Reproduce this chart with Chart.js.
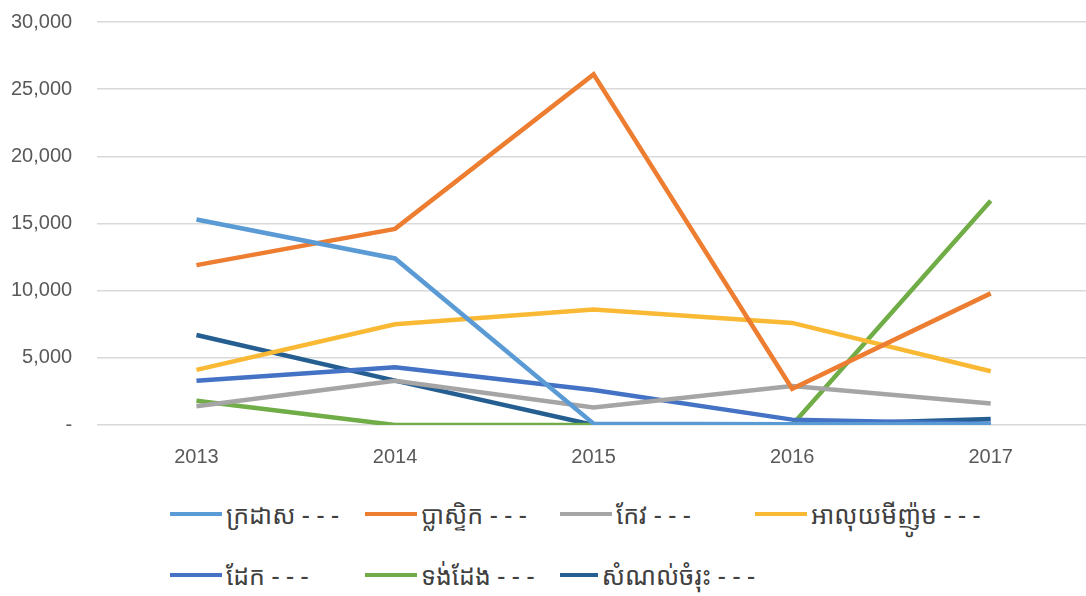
<!DOCTYPE html>
<html>
<head>
<meta charset="utf-8">
<script src="https://cdn.jsdelivr.net/npm/chart.js@4"></script>
<style>
  body { margin: 0; background: #fff; width: 1086px; height: 596px; overflow: hidden; font-family: "Noto Sans Khmer", "Khmer OS", "Noto Sans", "DejaVu Sans", sans-serif; }
  #wrap { position: absolute; left: -14px; top: -15px; width: 1105px; height: 496px; }
  #legend { position: absolute; left: 170px; top: 494px; display: grid; grid-template-columns: 195px 195px 195px 260px; row-gap: 21px; }
  .item { display: flex; align-items: center; height: 40px; font-size: 25px; color: #404040; white-space: nowrap; }
  .swatch { width: 52px; height: 4px; margin-right: 4px; }
</style>
</head>
<body>
<div id="wrap"><canvas id="lineChart"></canvas></div>
<div id="legend"></div>
<script>
const years = ["2013", "2014", "2015", "2016", "2017"];
const seriesNames = ["ក្រដាស - - -", "ប្លាស្ទិក - - -", "កែវ - - -", "អាលុយមីញ៉ូម - - -", "ដែក - - -", "ទង់ដែង - - -", "សំណល់ចំរុះ - - -"];
const paper     = [15300, 12400, 100, 50, 50];
const plastic   = [11900, 14600, 26100, 2700, 9800];
const glass     = [1400, 3300, 1300, 2900, 1600];
const aluminium = [4100, 7500, 8600, 7600, 4000];
const iron      = [3300, 4300, 2600, 400, 100];
const copper    = [1800, 0, 0, 0, 16700];
const mixed     = [6700, 3300, 0, 0, 450];
const yTicks = [0, 5000, 10000, 15000, 20000, 25000, 30000];
const colors = ['#5B9BD5', '#ED7D31', '#A5A5A5', '#F9B935', '#4472C4', '#70AD47', '#255E91'];

const allSeries = [paper, plastic, glass, aluminium, iron, copper, mixed];

const ctx = document.getElementById('lineChart').getContext('2d');
const chartInstance = new Chart(ctx, {
  type: 'line',
  data: {
    labels: years,
    datasets: allSeries.map((vals, i) => ({
      label: seriesNames[i],
      data: vals,
      borderColor: colors[i],
      backgroundColor: colors[i],
      borderWidth: 4.5,
      pointRadius: 0,
      tension: 0
    }))
  },
  options: {
    responsive: true,
    maintainAspectRatio: false,
    animation: false,
    layout: { padding: { top: 0, right: 1, left: 0, bottom: 0 } },
    plugins: {
      legend: { display: false },
      tooltip: { enabled: false }
    },
    scales: {
      x: {
        offset: true,
        grid: { display: false },
        border: { display: false },
        ticks: { color: '#595959', font: { size: 20 }, padding: 12 }
      },
      y: {
        min: 0,
        max: 30000,
        afterBuildTicks: axis => { axis.ticks = yTicks.map(v => ({ value: v })); },
        grid: { color: '#d9d9d9', lineWidth: 1.5, drawTicks: false },
        border: { display: false },
        ticks: {
          color: '#595959',
          font: { size: 20 },
          padding: 25,
          callback: v => v === 0 ? '-' : v.toLocaleString('en-US')
        }
      }
    }
  }
});

// legend in fixed columns like the original
const legendEl = document.getElementById('legend');
chartInstance.data.datasets.forEach(ds => {
  const item = document.createElement('div');
  item.className = 'item';
  const sw = document.createElement('span');
  sw.className = 'swatch';
  sw.style.background = ds.borderColor;
  const txt = document.createElement('span');
  txt.textContent = ds.label;
  item.appendChild(sw);
  item.appendChild(txt);
  legendEl.appendChild(item);
});
</script>
</body>
</html>
